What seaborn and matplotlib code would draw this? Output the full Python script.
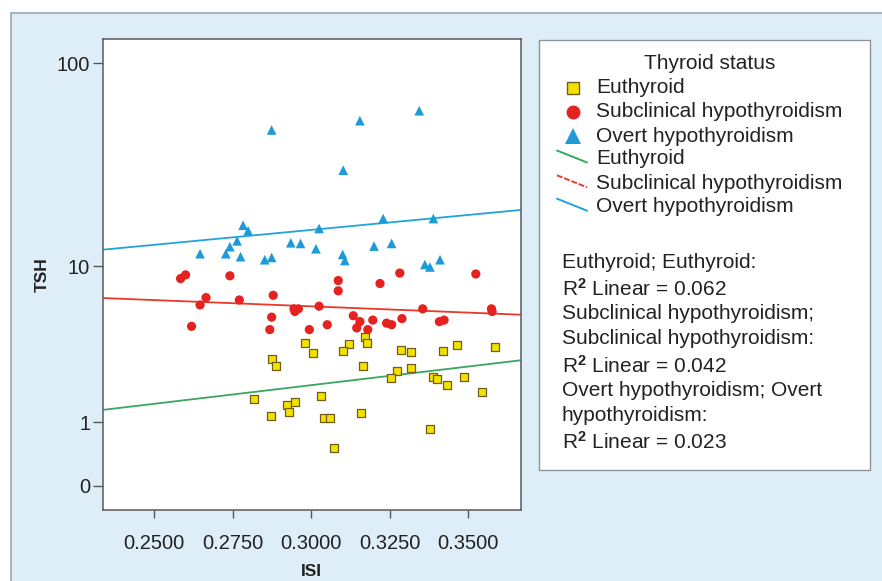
import numpy as np
import pandas as pd
import matplotlib
matplotlib.use("Agg")
import matplotlib.pyplot as plt
from matplotlib.patches import Rectangle
import seaborn as sns

# ---------------- data ----------------
eu_isi = [0.2980, 0.3006, 0.3120, 0.3101, 0.3172, 0.3177, 0.3287, 0.3317, 0.3420, 0.3463,
          0.3585, 0.2874, 0.2888, 0.3166, 0.3317, 0.3274, 0.3255, 0.3389, 0.3399, 0.3431,
          0.3487, 0.3543, 0.2817, 0.3031, 0.2923, 0.2947, 0.2930, 0.2872, 0.3042, 0.3061,
          0.3158, 0.3378, 0.3071]
eu_tsh = [3.76, 3.24, 3.71, 3.33, 4.07, 3.76, 3.40, 3.29, 3.36, 3.67,
          3.54, 3.00, 2.68, 2.68, 2.62, 2.50, 2.25, 2.26, 2.20, 2.01,
          2.28, 1.77, 1.57, 1.66, 1.40, 1.49, 1.24, 1.14, 1.10, 1.10,
          1.20, 0.86, 0.51]

sub_isi = [0.2584, 0.2600, 0.2741, 0.3086, 0.3086, 0.3219, 0.3282, 0.3524, 0.2879, 0.2665,
           0.2646, 0.2771, 0.2874, 0.2868, 0.2619, 0.2945, 0.2959, 0.2948, 0.3025, 0.2994,
           0.3051, 0.3134, 0.3155, 0.3145, 0.3180, 0.3196, 0.3240, 0.3256, 0.3289, 0.3355,
           0.3408, 0.3423, 0.3576, 0.3574]
sub_tsh = [8.6, 9.0, 8.9, 8.4, 7.4, 8.1, 9.2, 9.1, 7.0, 6.8,
           6.2, 6.6, 5.3, 4.5, 4.7, 5.9, 5.9, 5.7, 6.1, 4.5,
           4.8, 5.4, 5.0, 4.6, 4.5, 5.1, 4.9, 4.8, 5.2, 5.9,
           5.0, 5.1, 5.7, 5.9]

ov_isi = [0.2874, 0.3155, 0.3344, 0.3102, 0.3229, 0.3389, 0.2783, 0.2799, 0.3025, 0.2764,
          0.2935, 0.2966, 0.2741, 0.3200, 0.3256, 0.3015, 0.2646, 0.2728, 0.2775, 0.3100,
          0.3107, 0.2852, 0.2874, 0.3362, 0.3378, 0.3410]
ov_tsh = [47.7, 52.9, 59.1, 30.4, 17.5, 17.5, 16.2, 15.2, 15.6, 13.5,
          13.2, 13.1, 12.6, 12.7, 13.1, 12.3, 11.6, 11.6, 11.2, 11.5,
          10.7, 10.8, 11.1, 10.2, 9.9, 10.8]

groups = ["Euthyroid", "Subclinical hypothyroidism", "Overt hypothyroidism"]
r2_values = ["0.062", "0.042", "0.023"]
r2_labels = ["Euthyroid; Euthyroid:", "Subclinical hypothyroidism;\nSubclinical hypothyroidism:",
             "Overt hypothyroidism; Overt\nhypothyroidism:"]
x_ticks = [0.25, 0.275, 0.30, 0.325, 0.35]
y_ticks = [0, 1, 10, 100]

# ---------------- styling ----------------
colors = {"Euthyroid": "#f3e200", "Subclinical hypothyroidism": "#e5221f",
          "Overt hypothyroidism": "#1c9bd7"}
line_colors = {"Euthyroid": "#3aa65c", "Subclinical hypothyroidism": "#e8392b",
               "Overt hypothyroidism": "#22a3da"}
markers = {"Euthyroid": "s", "Subclinical hypothyroidism": "o", "Overt hypothyroidism": "^"}
edges = {"Euthyroid": "#6e5c18", "Subclinical hypothyroidism": "none",
         "Overt hypothyroidism": "none"}
sizes = {"Euthyroid": 34, "Subclinical hypothyroidism": 44, "Overt hypothyroidism": 48}

sns.set_theme(style="white")
FONT = ["Liberation Sans", "DejaVu Sans"]
plt.rcParams["font.family"] = FONT
plt.rcParams["mathtext.fontset"] = "custom"
plt.rcParams["mathtext.rm"] = "Liberation Sans"
plt.rcParams["mathtext.it"] = "Liberation Sans:italic"
plt.rcParams["mathtext.bf"] = "Liberation Sans:bold"

W, H = 882, 581
fig = plt.figure(figsize=(W / 100, H / 100), dpi=100)
fig.patch.set_facecolor("white")

# pixel-coordinate overlay axes for the panel background & legend box
bg = fig.add_axes([0, 0, 1, 1], zorder=0)
bg.set_xlim(0, W)
bg.set_ylim(H, 0)
bg.axis("off")
bg.add_patch(Rectangle((11, 13), W + 5, H, facecolor="#ddeef8", edgecolor="#9ea8b0", lw=1.2))
bg.add_patch(Rectangle((539, 39.5), 331, 430, facecolor="white", edgecolor="#8c949a", lw=1.0))

# main axes
L, R, T, B = 102.7, 521, 39.3, 510
ax = fig.add_axes([L / W, 1 - B / H, (R - L) / W, (B - T) / H], zorder=1)
ax.set_facecolor("white")


def fwd(v):
    return np.log10(np.clip(np.asarray(v, dtype=float) + 1, 1e-6, None))


def inv(v):
    return 10 ** np.asarray(v, dtype=float) - 1


ax.set_yscale("function", functions=(fwd, inv))

data = {
    "Euthyroid": (eu_isi, eu_tsh),
    "Subclinical hypothyroidism": (sub_isi, sub_tsh),
    "Overt hypothyroidism": (ov_isi, ov_tsh),
}
xlim = (0.2336, 0.3668)
for g in groups:
    xs, ys = data[g]
    df = pd.DataFrame({"ISI": xs, "TSH": ys})
    sns.scatterplot(data=df, x="ISI", y="TSH", ax=ax, color=colors[g], marker=markers[g],
                    s=sizes[g], edgecolor=edges[g], linewidth=0.9 if g == "Euthyroid" else 0,
                    zorder=3, legend=False)

for g in groups:
    xs, ys = data[g]
    b, a = np.polyfit(np.asarray(xs), fwd(ys), 1)
    lx = np.linspace(xlim[0], xlim[1], 50)
    ax.plot(lx, inv(a + b * lx), color=line_colors[g], lw=1.3, zorder=2, ls="-")

ax.set_xlim(*xlim)
ax.set_ylim(-0.234, 130.2)
ax.set_xticks(x_ticks)
ax.set_xticklabels([f"{v:.4f}" for v in x_ticks])
ax.set_yticks(y_ticks)
ax.set_yticklabels([str(v) for v in y_ticks])
ax.tick_params(axis="x", length=6, width=1, color="#555555", pad=11, labelsize=14.5,
               labelcolor="#222222", bottom=True)
ax.tick_params(axis="y", length=7, width=1, color="#555555", pad=2, labelsize=14.5,
               labelcolor="#222222", left=True)
for s in ax.spines.values():
    s.set_color("#5a5a5a")
    s.set_linewidth(1.1)
ax.set_xlabel("ISI", fontsize=12.5, fontweight="bold", color="#222222", labelpad=8)
ax.set_ylabel("TSH", fontsize=12.5, fontweight="bold", color="#222222", labelpad=5)

# ---------------- legend (drawn in pixel coords) ----------------
FS = 15
tkw = dict(fontsize=FS, color="#222222", va="center", ha="left")
bg.text(710, 63.5, "Thyroid status", fontsize=FS, color="#222222", va="center", ha="center")
entry_y = [87.5, 111.7, 136, 158.5, 183.3, 206.7]
for i, g in enumerate(groups):
    y = entry_y[i]
    bg.plot([573], [y], marker=markers[g], ms={"s": 9, "o": 10, "^": 11}[markers[g]],
            mfc=colors[g], mec=edges[g] if g == "Euthyroid" else colors[g],
            mew=1 if g == "Euthyroid" else 0, ls="none")
    bg.text(596, y, g, **tkw)
for i, g in enumerate(groups):
    y = entry_y[3 + i]
    bg.plot([557, 587], [y - 8, y + 4], color=line_colors[g], lw=1.4,
            ls=(0, (3, 1)) if g == "Subclinical hypothyroidism" else "-")
    bg.text(596, y, g, **tkw)

# R^2 annotations
ypos = 262.5
for lab, r2 in zip(r2_labels, r2_values):
    for line in lab.split("\n"):
        bg.text(561.5, ypos, line, **tkw)
        ypos += 25.5
    bg.text(561.5, ypos + 1, r"R$^{\mathbf{2}}$ Linear = " + r2, **tkw)
    ypos += 25.5

fig.savefig("out.png", dpi=100, facecolor="white")
